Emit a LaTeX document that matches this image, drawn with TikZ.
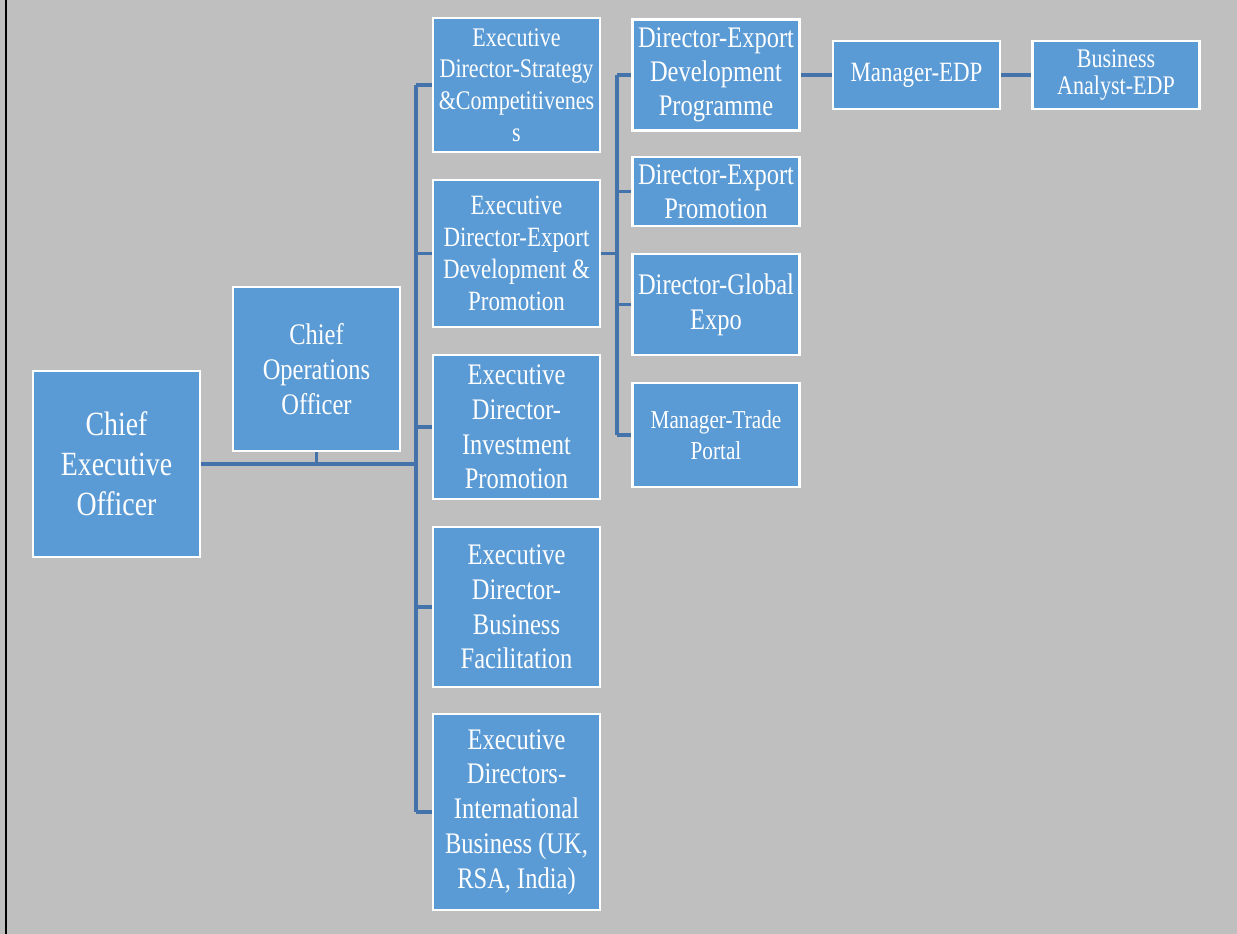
\documentclass[tikz,border=0pt]{standalone}
\usepackage{fontspec}
\newfontfamily\boxfont[FakeStretch=0.82]{Liberation Serif}
\usetikzlibrary{calc}
\definecolor{boxblue}{RGB}{91,155,213}
\definecolor{linkblue}{RGB}{68,114,170}
\definecolor{backgray}{RGB}{191,191,191}
\newcommand{\fsz}[2]{\boxfont\fontsize{#1}{#2}\selectfont}
\tikzset{
    post/.style={draw=white, line width=1.4pt, fill=boxblue, text=white,
        align=center, inner sep=0pt, minimum width=3.34cm},
    link/.style={draw=linkblue, line width=1.9pt},
}

\begin{document}
\begin{tikzpicture}[x=0.02cm, y=-0.02cm]
        % page
        \useasboundingbox (0,0) rectangle (1237,933);
        \fill[backgray] (-10,-10) rectangle (1247,943);
        \draw[black, line width=1.2pt] (6,-10) -- (6,943);

        % boxes
        \node[post, minimum height=3.72cm, font=\fsz{19.3pt}{22.7pt}] (ceo) at (116.5,464) {Chief\\Executive\\Officer};
        \node[post, minimum height=3.28cm, font=\fsz{17pt}{19.8pt}] (coo) at (316.5,369) {Chief\\Operations\\Officer};
        \node[post, minimum height=2.68cm, font=\fsz{15.3pt}{18.1pt}] (edstrat) at (516.5,85) {Executive\\Director-Strategy\\\&Competitivenes\\s};
        \node[post, minimum height=2.94cm, font=\fsz{15.9pt}{18.1pt}] (edexport) at (516.5,253.5) {Executive\\Director-Export\\Development \&\\Promotion};
        \node[post, minimum height=2.88cm, font=\fsz{17pt}{19.8pt}] (edinvest) at (516.5,427) {Executive\\Director-\\Investment\\Promotion};
        \node[post, minimum height=3.2cm, font=\fsz{17pt}{19.8pt}] (edbusiness) at (516.5,607) {Executive\\Director-\\Business\\Facilitation};
        \node[post, minimum height=3.92cm, font=\fsz{17pt}{19.8pt}] (edintl) at (516.5,812) {Executive\\Directors-\\International\\Business (UK,\\RSA, India)};
        \node[post, minimum height=2.22cm, font=\fsz{17pt}{19.3pt}] (direxpdev) at (716,75) {Director-Export\\Development\\Programme};
        \node[post, minimum height=1.38cm, font=\fsz{17pt}{19.3pt}] (direxpprom) at (716,191.5) {Director-Export\\Promotion};
        \node[post, minimum height=2.02cm, font=\fsz{17pt}{19.8pt}] (dirglobal) at (716,304.5) {Director-Global\\Expo};
        \node[post, minimum height=2.08cm, font=\fsz{14.7pt}{17.6pt}] (mgrtrade) at (716,435) {Manager-Trade\\Portal};
        \node[post, minimum height=1.36cm, font=\fsz{15.9pt}{18pt}] (mgredp) at (916.5,75) {Manager-EDP};
        \node[post, minimum height=1.36cm, font=\fsz{15.3pt}{15.9pt}] (baedp) at (1116,75) {Business\\Analyst-EDP};

        % bus lines
        \coordinate (busa) at (416,0);
        \coordinate (busb) at (617,0);

        \draw[link] (ceo.east) -- (ceo.east -| busa);
        \draw[link] (coo.south) -- (coo.south |- ceo.east);
        \draw[link] (busa |- edstrat.west) -- (busa |- edintl.west);
        \foreach \n in {edstrat,edexport,edinvest,edbusiness,edintl} {
            \draw[link] (busa |- \n.west) -- (\n.west);
        }
        \draw[link] (edexport.east) -- (edexport.east -| busb);
        \draw[link] (busb |- direxpdev.west) -- (busb |- mgrtrade.west);
        \foreach \n in {direxpdev,direxpprom,dirglobal,mgrtrade} {
            \draw[link] (busb |- \n.west) -- (\n.west);
        }
        \draw[link] (direxpdev.east) -- (mgredp.west);
        \draw[link] (mgredp.east) -- (baedp.west);
    \end{tikzpicture}
\end{document}
